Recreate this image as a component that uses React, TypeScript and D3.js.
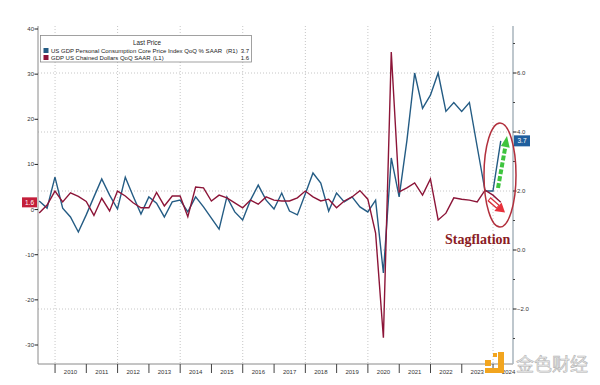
import * as d3 from "d3";
import { useEffect, useRef } from "react";

const W = 600;
const H = 385;

// quarterly points, 2009 Q2 .. 2024 Q1 (plotted at quarter end)
const quarterCount = 60;
const quarterEnds = d3.range(quarterCount).map((i) => {
  const m = 5 + i * 3;
  return new Date(2009 + Math.floor(m / 12), (m % 12) + 1, 0);
});

// US GDP Personal Consumption Core Price Index QoQ % SAAR (right axis)
const corePce = [
  1.66, 1.42, 2.47,
  1.42, 1.12, 0.61, 1.19,
  1.8, 2.41, 1.86, 1.39,
  2.47, 1.83, 1.22, 1.8,
  1.59, 1.12, 1.63, 1.69,
  1.29, 1.8, 1.46, 1.08,
  0.71, 1.8, 1.29, 1.02,
  1.69, 2.2, 1.69, 1.39,
  1.93, 1.32, 1.19, 1.9,
  2.61, 2.27, 1.32, 1.93,
  1.63, 1.8, 1.46, 1.29,
  1.69, -0.78, 3.12, 1.8,
  3.7, 6.0, 4.8, 5.25,
  6.0, 4.7, 5.0, 4.7,
  5.0, 3.5, 2.0, 2.0,
  3.7,
];

// GDP US Chained Dollars QoQ SAAR (left axis)
const gdp = [
  -0.75, 1.0, 4.1,
  1.7, 3.7, 2.9, 1.8,
  -1.3, 2.5, -0.3, 4.1,
  3.0, 1.5, 0.4, 0.4,
  3.8, 0.8, 3.0, 3.0,
  -1.6, 5.0, 4.8, 1.9,
  3.2, 2.6, 1.5, 0.4,
  2.1, 1.2, 2.8, 2.1,
  1.9, 1.9, 2.6, 4.1,
  2.8, 1.9, 2.3, 0.4,
  1.9, 2.8, 4.2, 2.3,
  -5.2, -28.4, 34.9, 3.9,
  4.8, 5.9, 3.2, 6.8,
  -2.3, -0.8, 2.6, 2.3,
  2.1, 1.7, 4.3, 3.2,
  1.6,
];

const years = d3.range(2010, 2025);
const leftTicks = [-30, -20, -10, 0, 10, 20, 30, 40];
const rightTicks = [-2, 0, 2, 4, 6];
const rightMinor = [-3, -1, 1, 3, 5, 7];

const legendTitle = "Last Price";
const legendNames = [
  "US GDP Personal Consumption Core Price Index QoQ % SAAR",
  "GDP US Chained Dollars QoQ SAAR",
];
const legendAxes = ["(R1)", "(L1)"];
const lastValues = ["3.7", "1.6"];

const BLUE = "#245c84";
const RED = "#8c1538";

const drawChart = (svgEl: SVGSVGElement) => {
  const svg = d3.select(svgEl);
  svg.selectAll("*").remove();

  const left = 38;
  const right = 513;
  const top = 26;
  const bottom = 364;

  const x = d3
    .scaleTime()
    .domain([new Date(2009, 5, 16), new Date(2024, 7, 21)])
    .range([left, right]);
  const yL = d3.scaleLinear().domain([-30, 40]).range([345, 29]);
  const yR = d3.scaleLinear().domain([-2, 6]).range([309, 73]);

  const font = "Liberation Sans, Arial, sans-serif";

  // grid
  const grid = svg
    .append("g")
    .attr("stroke", "#b8b8b8")
    .attr("stroke-width", 0.8)
    .attr("stroke-dasharray", "1,2");
  grid
    .selectAll("line.v")
    .data(years.filter((y) => y % 2 === 0))
    .join("line")
    .attr("x1", (d) => x(new Date(d, 0, 1)))
    .attr("x2", (d) => x(new Date(d, 0, 1)))
    .attr("y1", top)
    .attr("y2", bottom);
  grid
    .selectAll("line.h")
    .data(rightTicks)
    .join("line")
    .attr("x1", left)
    .attr("x2", right)
    .attr("y1", (d) => yR(d))
    .attr("y2", (d) => yR(d));

  // axis lines
  svg
    .append("line")
    .attr("x1", left)
    .attr("x2", left)
    .attr("y1", top)
    .attr("y2", bottom)
    .attr("stroke", "#8a8a8a");
  svg
    .append("line")
    .attr("x1", left)
    .attr("x2", right)
    .attr("y1", bottom)
    .attr("y2", bottom)
    .attr("stroke", "#8a8a8a");
  svg
    .append("line")
    .attr("x1", right)
    .attr("x2", right)
    .attr("y1", top)
    .attr("y2", bottom)
    .attr("stroke", "#a9b4bc")
    .attr("stroke-width", 1.5);

  // left axis
  const la = svg.append("g").attr("font-family", font).attr("font-size", 6).attr("fill", "#333");
  la.selectAll("line")
    .data(leftTicks)
    .join("line")
    .attr("x1", left - 3.5)
    .attr("x2", left)
    .attr("y1", (d) => yL(d))
    .attr("y2", (d) => yL(d))
    .attr("stroke", "#222");
  la.selectAll("text")
    .data(leftTicks)
    .join("text")
    .attr("x", left - 4)
    .attr("y", (d) => yL(d) + 2)
    .attr("text-anchor", "end")
    .text((d) => d);

  // right axis
  const ra = svg.append("g").attr("font-family", font).attr("font-size", 6).attr("fill", "#333");
  ra.selectAll("line.maj")
    .data(rightTicks)
    .join("line")
    .attr("x1", right)
    .attr("x2", right + 3.5)
    .attr("y1", (d) => yR(d))
    .attr("y2", (d) => yR(d))
    .attr("stroke", "#222");
  ra.append("g")
    .selectAll("line")
    .data(rightMinor)
    .join("line")
    .attr("x1", right)
    .attr("x2", right + 2)
    .attr("y1", (d) => yR(d))
    .attr("y2", (d) => yR(d))
    .attr("stroke", "#444");
  ra.selectAll("text")
    .data(rightTicks)
    .join("text")
    .attr("x", right + 4)
    .attr("y", (d) => yR(d) + 2)
    .text((d) => d3.format(".1f")(d));

  // bottom axis
  const ba = svg.append("g").attr("font-family", font).attr("font-size", 6).attr("fill", "#333");
  ba.selectAll("line")
    .data(years)
    .join("line")
    .attr("x1", (d) => x(new Date(d, 0, 1)))
    .attr("x2", (d) => x(new Date(d, 0, 1)))
    .attr("y1", bottom)
    .attr("y2", bottom + 9)
    .attr("stroke", "#444");
  ba.selectAll("text")
    .data(years)
    .join("text")
    .attr("x", (d) => x(new Date(d, 6, 1)))
    .attr("y", bottom + 10)
    .attr("text-anchor", "middle")
    .text((d) => d);

  // series
  const lineR = d3
    .line<number>()
    .x((_, i) => x(quarterEnds[i]))
    .y((d) => yR(d));
  const lineL = d3
    .line<number>()
    .x((_, i) => x(quarterEnds[i]))
    .y((d) => yL(d));

  svg
    .append("path")
    .attr("d", lineR(corePce))
    .attr("fill", "none")
    .attr("stroke", BLUE)
    .attr("stroke-width", 1.4)
    .attr("stroke-linejoin", "miter");
  svg
    .append("path")
    .attr("d", lineL(gdp))
    .attr("fill", "none")
    .attr("stroke", RED)
    .attr("stroke-width", 1.4)
    .attr("stroke-linejoin", "miter");

  // last value tags
  const lastR = corePce[corePce.length - 1];
  const lastL = gdp[gdp.length - 1];
  const tagR = svg.append("g");
  tagR
    .append("rect")
    .attr("x", right + 1)
    .attr("y", yR(lastR) - 5.5)
    .attr("width", 16)
    .attr("height", 11)
    .attr("fill", "#1f5f9e");
  tagR
    .append("text")
    .attr("x", right + 9)
    .attr("y", yR(lastR) + 2.2)
    .attr("text-anchor", "middle")
    .attr("font-family", font)
    .attr("font-size", 6.5)
    .attr("fill", "#fff")
    .text(lastValues[0]);
  const tagL = svg.append("g");
  tagL
    .append("rect")
    .attr("x", 22)
    .attr("y", yL(lastL) - 5)
    .attr("width", 15)
    .attr("height", 10)
    .attr("fill", "#c41f3b");
  tagL
    .append("text")
    .attr("x", 29.5)
    .attr("y", yL(lastL) + 2.2)
    .attr("text-anchor", "middle")
    .attr("font-family", font)
    .attr("font-size", 6.5)
    .attr("fill", "#fff")
    .text(lastValues[1]);

  // legend
  const lg = svg.append("g").attr("font-family", font).attr("fill", "#222");
  lg.append("rect")
    .attr("x", 40.5)
    .attr("y", 35.5)
    .attr("width", 211)
    .attr("height", 26.5)
    .attr("fill", "#fff")
    .attr("stroke", "#8a8a8a")
    .attr("stroke-width", 0.8);
  lg.append("text")
    .attr("x", 147)
    .attr("y", 45.2)
    .attr("text-anchor", "middle")
    .attr("font-size", 6.3)
    .text(legendTitle);
  const colors = [BLUE, RED];
  legendNames.forEach((name, i) => {
    const by = 53 + i * 7;
    lg.append("rect")
      .attr("x", 43.5)
      .attr("y", by - 5)
      .attr("width", 5)
      .attr("height", 5)
      .attr("fill", colors[i]);
    lg.append("text").attr("x", 51).attr("y", by).attr("font-size", 6).text(name);
    lg.append("text")
      .attr("x", i === 0 ? 226 : 153)
      .attr("y", by)
      .attr("font-size", 6)
      .text(legendAxes[i]);
    lg.append("text")
      .attr("x", 249)
      .attr("y", by)
      .attr("text-anchor", "end")
      .attr("font-size", 6)
      .text(lastValues[i]);
  });

  // annotation
  svg
    .append("ellipse")
    .attr("cx", 500)
    .attr("cy", 175)
    .attr("rx", 16)
    .attr("ry", 52)
    .attr("fill", "none")
    .attr("stroke", "#b2303d")
    .attr("stroke-width", 1.5);

  // green dashed arrow (up)
  svg
    .append("line")
    .attr("x1", 498)
    .attr("y1", 188)
    .attr("x2", 505.3)
    .attr("y2", 147)
    .attr("stroke", "#3ec43e")
    .attr("stroke-width", 4)
    .attr("stroke-dasharray", "5,2");
  svg
    .append("polygon")
    .attr("points", "507,136 509.7,147.7 500.9,146.1")
    .attr("fill", "#3ec43e");

  // red arrow (down)
  svg
    .append("line")
    .attr("x1", 489)
    .attr("y1", 199)
    .attr("x2", 498)
    .attr("y2", 206.8)
    .attr("stroke", "#d8303a")
    .attr("stroke-width", 5);
  svg
    .append("line")
    .attr("x1", 489.8)
    .attr("y1", 199.7)
    .attr("x2", 497.5)
    .attr("y2", 206.4)
    .attr("stroke", "#fff")
    .attr("stroke-width", 2.4);
  svg
    .append("polygon")
    .attr("points", "505,212.5 494.3,211 501.5,202.6")
    .attr("fill", "#e8323c");

  svg
    .append("text")
    .attr("x", 445)
    .attr("y", 243.5)
    .attr("font-family", "Liberation Serif, Times New Roman, serif")
    .attr("font-weight", "bold")
    .attr("font-size", 14)
    .attr("fill", "#8b1c24")
    .text("Stagflation");

  // watermark
  const wm = svg.append("g").attr("fill", "#f2a51f");
  wm.append("rect").attr("x", 485).attr("y", 360).attr("width", 6).attr("height", 6);
  wm.append("rect").attr("x", 493).attr("y", 353).attr("width", 4).attr("height", 4);
  wm.append("rect").attr("x", 498).attr("y", 352).attr("width", 6).attr("height", 21);
  wm.append("rect").attr("x", 485).attr("y", 368).attr("width", 19).attr("height", 5);
  svg
    .append("text")
    .attr("x", 516)
    .attr("y", 371)
    .attr("font-family", "Noto Sans CJK SC, sans-serif")
    .attr("font-size", 18)
    .attr("fill", "#ececec")
    .attr("stroke", "#b5b5b5")
    .attr("stroke-width", 0.6)
    .text("金色财经");
};

export default function App() {
  const ref = useRef<SVGSVGElement>(null);

  useEffect(() => {
    if (ref.current) drawChart(ref.current);
  }, []);

  return (
    <svg
      ref={ref}
      width={W}
      height={H}
      viewBox={`0 0 ${W} ${H}`}
      style={{ position: "absolute", left: 0, top: 0, background: "#fff" }}
    />
  );
}
